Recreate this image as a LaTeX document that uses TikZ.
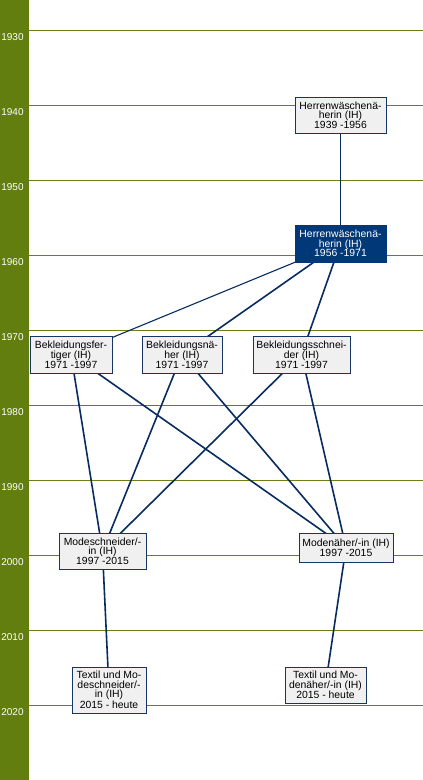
\documentclass[tikz,border=0pt]{standalone}
\usepackage{fontspec}
\setmainfont{Liberation Sans}
\definecolor{bargreen}{RGB}{98,126,14}
\definecolor{yearline}{RGB}{112,124,20}
\definecolor{boxfill}{RGB}{240,240,240}
\definecolor{boxborder}{RGB}{24,52,96}
\definecolor{darkbox}{RGB}{0,56,120}
\definecolor{conncol}{RGB}{8,44,96}
\pgfdeclarelayer{bg}
\pgfdeclarelayer{conn}
\pgfsetlayers{bg,conn,main}
\tikzset{
  box/.style={draw=boxborder, fill=boxfill, line width=0.9pt, align=center, inner sep=0pt,
    font=\fontsize{10.4}{9.6}\selectfont, text=black},
  darkboxstyle/.style={box, fill=darkbox, draw=darkbox, text=white},
  yearlabel/.style={font=\fontsize{10}{10}\selectfont, text=white, inner sep=0pt},
  yline/.style={draw=yearline, line width=0.9pt},
  connector/.style={draw=conncol, line width=1.6pt}
}
\begin{document}
\begin{tikzpicture}[x=1pt,y=-1pt]
\useasboundingbox (0,0) rectangle (423,780);
\begin{pgfonlayer}{bg}
  \fill[white] (0,0) rectangle (423,780);
  \fill[bargreen] (0,0) rectangle (29,780);
  \foreach \i/\yr in {0/1930,1/1940,2/1950,3/1960,4/1970,5/1980,6/1990,7/2000,8/2010,9/2020}{
    \coordinate (ls\i) at (29,30.3+75*\i);
    \coordinate (le\i) at (423,30.3+75*\i);
    \draw[yline] (ls\i) -- (le\i);
    \node[yearlabel] (yl\i) at (12.5,37+75*\i) {\yr};
  }
\end{pgfonlayer}

\node[box, minimum width=91, minimum height=36] (b1) at (340.5,115) {Herrenwäschenä-\\herin (IH)\\1939 -1956};
\node[darkboxstyle, minimum width=91, minimum height=37] (b2) at (340.5,243.5) {Herrenwäschenä-\\herin (IH)\\1956 -1971};
\node[box, minimum width=82, minimum height=37] (b3) at (71,354.5) {Bekleidungsfer-\\tiger (IH)\\1971 -1997};
\node[box, minimum width=80, minimum height=37] (b4) at (182,354.5) {Bekleidungsnä-\\her (IH)\\1971 -1997};
\node[box, minimum width=97, minimum height=37] (b5) at (301.5,354.5) {Bekleidungsschnei-\\der (IH)\\1971 -1997};
\node[box, minimum width=87, minimum height=36] (b6) at (102.5,551) {Modeschneider/-\\in (IH)\\1997 -2015};
\node[box, minimum width=94, minimum height=29] (b7) at (346,547.5) {Modenäher/-in (IH)\\1997 -2015};
\node[box, minimum width=74, minimum height=46] (b8) at (109,690) {Textil und Mo-\\deschneider/-\\in (IH)\\2015 - heute};
\node[box, minimum width=81, minimum height=36] (b9) at (325.5,685) {Textil und Mo-\\denäher/-in (IH)\\2015 - heute};

\begin{pgfonlayer}{conn}
  \draw[connector] (b1.center) -- (b2.center);
  \draw[connector, line width=1.1pt] (b2.center) -- (b3.center);
  \draw[connector] (b2.center) -- (b4.center);
  \draw[connector] (b2.center) -- (b5.center);
  \draw[connector] (b3.center) -- (b6.center);
  \draw[connector] (b3.center) -- (b7.center);
  \draw[connector] (b4.center) -- (b6.center);
  \draw[connector] (b4.center) -- (b7.center);
  \draw[connector] (b5.center) -- (b6.center);
  \draw[connector] (b5.center) -- (b7.center);
  \draw[connector] (b6.center) -- (b8.center);
  \draw[connector] (b7.center) -- (b9.center);
\end{pgfonlayer}
\end{tikzpicture}
\end{document}
